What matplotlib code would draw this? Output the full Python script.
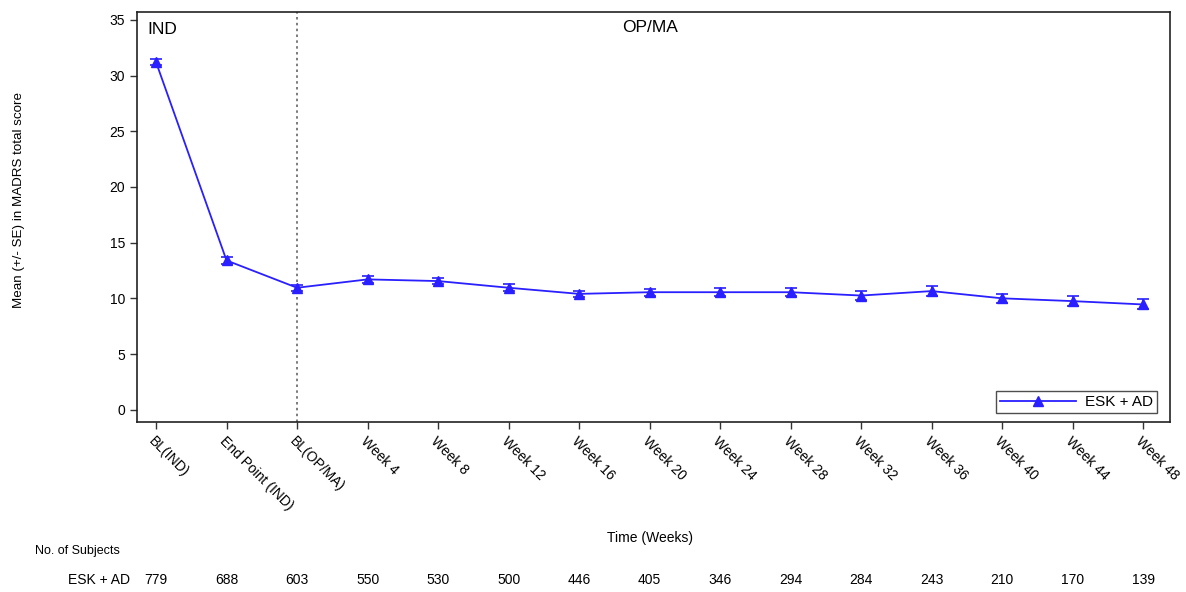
import matplotlib
matplotlib.use("Agg")
import matplotlib.pyplot as plt
from matplotlib.lines import Line2D
import numpy as np

plt.rcParams['font.family'] = ['Liberation Sans', 'DejaVu Sans']

categories = ["BL(IND)", "End Point (IND)", "BL(OP/MA)", "Week 4", "Week 8", "Week 12",
              "Week 16", "Week 20", "Week 24", "Week 28", "Week 32", "Week 36",
              "Week 40", "Week 44", "Week 48"]
mean_vals = [31.2, 13.4, 10.95, 11.7, 11.55, 10.95, 10.4, 10.55, 10.55, 10.55,
             10.25, 10.65, 10.0, 9.75, 9.45]
se_vals = [0.25, 0.28, 0.25, 0.28, 0.3, 0.3, 0.3, 0.32, 0.35, 0.38, 0.4, 0.42,
           0.42, 0.45, 0.45]
n_subjects = [779, 688, 603, 550, 530, 500, 446, 405, 346, 294, 284, 243, 210, 170, 139]
yticks = [0, 5, 10, 15, 20, 25, 30, 35]

blue = '#2a1fff'
fig = plt.figure(figsize=(11.86, 5.92), dpi=100)
ax = fig.add_axes([137/1186, 1-422/592, (1170-137)/1186, (422-12)/592])

x = np.arange(len(categories))
ax.errorbar(x, mean_vals, yerr=se_vals, color=blue, marker='^', markersize=6.5,
            linewidth=1.3, capsize=4, elinewidth=1.2, capthick=1.2)

ax.axvline(2, color='#666666', linestyle=(0, (1.5, 2)), linewidth=1.2)

ax.set_xlim(-0.27, 14.38)
ax.set_ylim(-1.1, 35.7)
ax.set_yticks(yticks)
ax.set_xticks(x)
ax.set_xticklabels(categories, rotation=-45, ha='left', va='top',
                   rotation_mode='anchor', fontsize=10)
ax.tick_params(axis='both', labelsize=10, length=5, width=1, color='#333333')
ax.set_ylabel('Mean (+/- SE) in MADRS total score', fontsize=9.6)
ax.yaxis.set_label_coords(-0.108, 0.541)
for s in ax.spines.values():
    s.set_linewidth(1.2)
    s.set_color('#222222')

ax.text(0.01, 0.975, 'IND', transform=ax.transAxes, fontsize=12.5, va='top', ha='left')
ax.text(7, 35.0, 'OP/MA', fontsize=12.5, va='top', ha='center')

handle = Line2D([], [], color=blue, marker='^', markersize=6.5, linewidth=1.3)
leg = ax.legend([handle], ['ESK + AD'], loc='lower right',
                bbox_to_anchor=((1157-137)/1033, (422-413)/410),
                fontsize=11, frameon=True, fancybox=False, borderaxespad=0,
                handlelength=5, borderpad=0.25, handletextpad=0.6)
leg.get_frame().set_edgecolor('#222222')
leg.get_frame().set_linewidth(1.0)

fig.text(650/1186, 1-538/592, 'Time (Weeks)', ha='center', va='center', fontsize=10)
fig.text(35/1186, 1-551/592, 'No. of Subjects', ha='left', va='center', fontsize=9)
fig.text(130/1186, 1-580/592, 'ESK + AD', ha='right', va='center', fontsize=10)
trans = ax.get_xaxis_transform()
for xi, n in zip(x, n_subjects):
    ax.text(xi, (422-580)/410, str(n), transform=trans, ha='center', va='center',
            fontsize=10, clip_on=False)

fig.savefig('out.png', dpi=100)
